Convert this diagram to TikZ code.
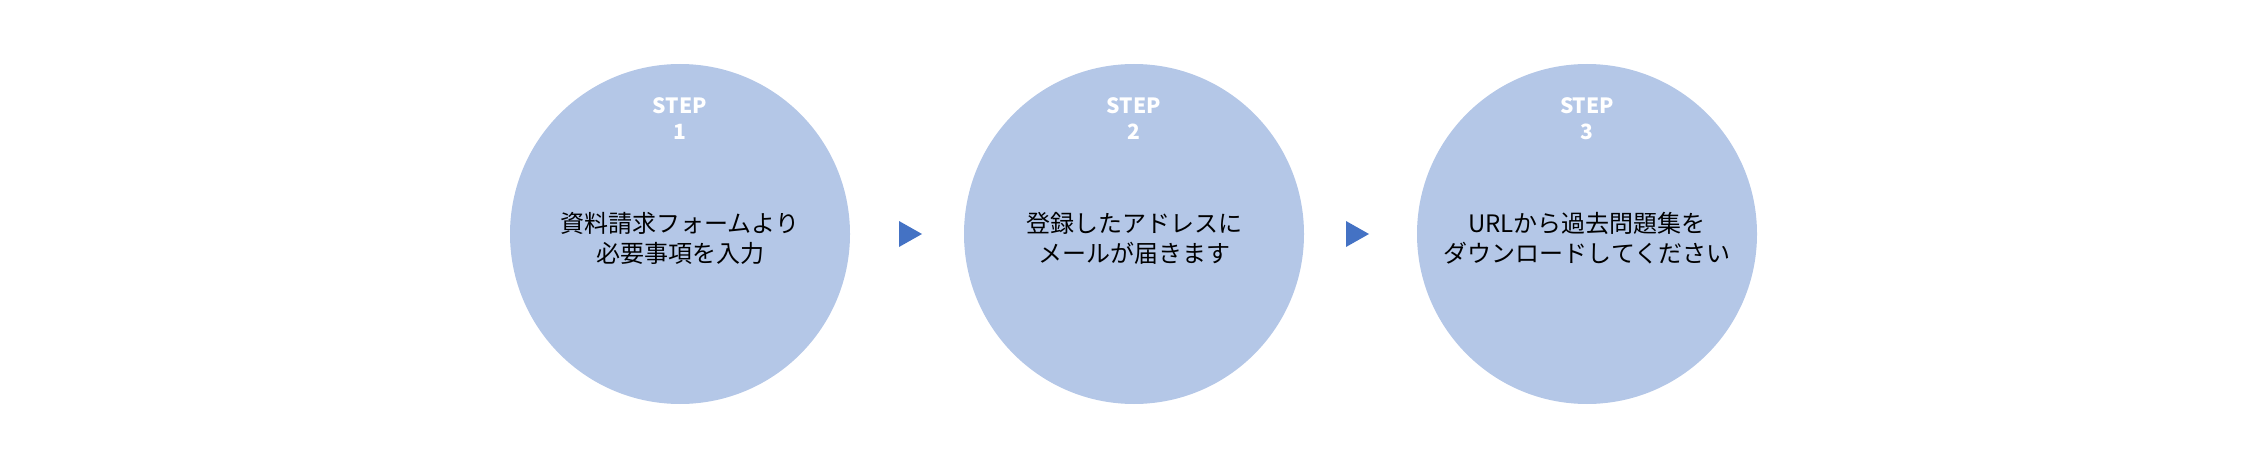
\documentclass[tikz,border=0pt]{standalone}
\usepackage{fontspec}
\setmainfont{Noto Sans CJK JP}
\begin{document}
\begin{tikzpicture}[x=1pt,y=-1pt,
  stepcircle/.style={circle,fill={rgb,255:red,180;green,199;blue,231},minimum size=340pt,inner sep=0pt},
  steplabel/.style={text=white,font=\fontsize{21}{26}\selectfont\bfseries,align=center},
  body/.style={text=black,font=\fontsize{24}{30}\selectfont,align=center},
  tri/.style={fill={rgb,255:red,68;green,114;blue,196}}]
\useasboundingbox (0,0) rectangle (2268,468);
\foreach \i/\cx/\t in {1/680/{資料請求フォームより\\必要事項を入力},2/1134/{登録したアドレスに\\メールが届きます},3/1587/{URLから過去問題集を\\ダウンロードしてください}}{
  \node[stepcircle] (c\i) at (\cx,234) {};
  \node[steplabel] (s\i) at (\cx,119) {STEP\\\i};
  \node[body] (b\i) at (\cx,238) {\t};
}
\coordinate (t1) at (910,234);
\coordinate (t2) at (1357,234);
\foreach \t in {t1,t2}{
  \fill[tri] ([xshift=-11pt,yshift=-13pt]\t) -- ([xshift=12pt]\t) -- ([xshift=-11pt,yshift=13pt]\t) -- cycle;
}
\end{tikzpicture}
\end{document}
